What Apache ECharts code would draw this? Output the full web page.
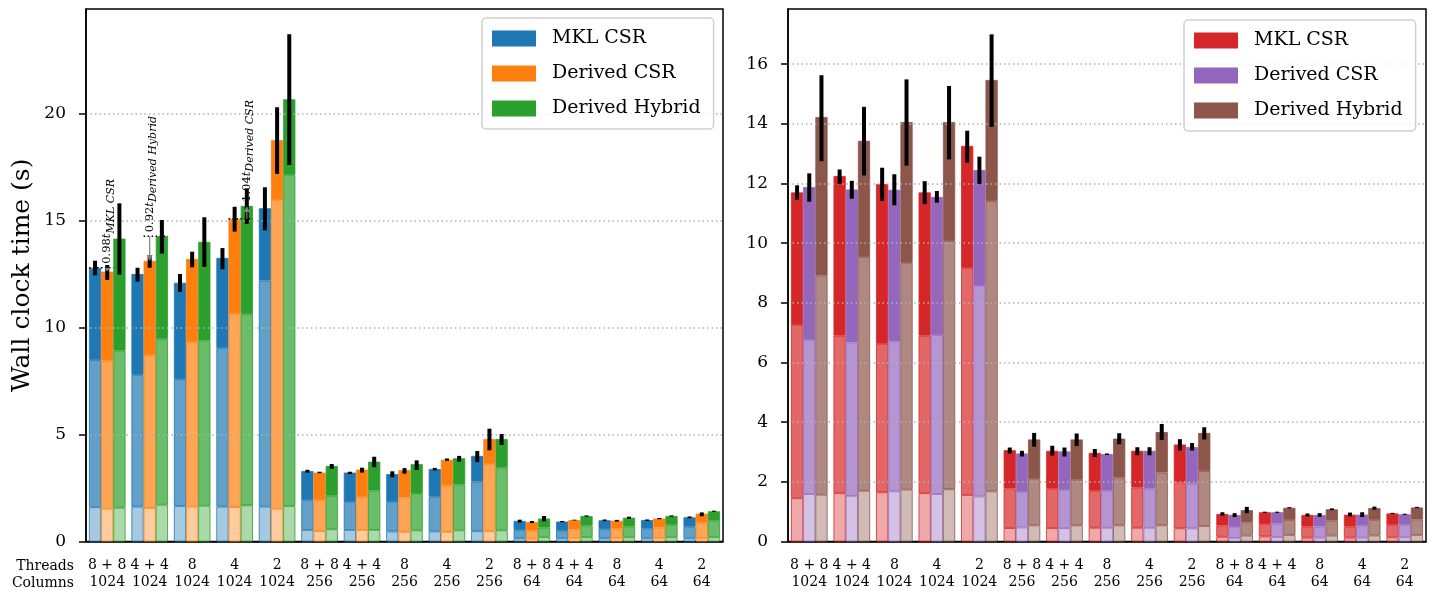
<!DOCTYPE html>
<html>
<head>
<meta charset="utf-8">
<script src="https://cdn.jsdelivr.net/npm/echarts@6/dist/echarts.min.js"></script>
<style>
  html, body { margin: 0; padding: 0; background: #fff; }
  #chart { width: 1435px; height: 591px; }
</style>
</head>
<body>
<div id="chart"></div>
<script>
// categories
var threads = ['8 + 8', '4 + 4', '8', '4', '2', '8 + 8', '4 + 4', '8', '4', '2', '8 + 8', '4 + 4', '8', '4', '2'];
var columns = ['1024', '1024', '1024', '1024', '1024', '256', '256', '256', '256', '256', '64', '64', '64', '64', '64'];
var methods = ['MKL CSR', 'Derived CSR', 'Derived Hybrid'];

// left panel: cumulative heights of the three segments (MKL CSR, Derived CSR, Derived Hybrid)
var leftBottom = [
  [1.60, 1.63, 1.66, 1.63, 1.63, 0.54, 0.54, 0.47, 0.47, 0.48, 0.15, 0.15, 0.15, 0.15, 0.15],
  [1.53, 1.57, 1.63, 1.61, 1.53, 0.49, 0.54, 0.45, 0.45, 0.48, 0.13, 0.15, 0.15, 0.15, 0.15],
  [1.58, 1.72, 1.67, 1.69, 1.66, 0.57, 0.54, 0.52, 0.52, 0.52, 0.20, 0.20, 0.20, 0.20, 0.20]
];
var leftMid = [
  [8.47, 7.78, 7.59, 9.04, 12.19, 1.94, 1.85, 1.85, 2.09, 2.80, 0.54, 0.50, 0.57, 0.60, 0.69],
  [8.45, 8.71, 9.32, 10.64, 15.96, 1.94, 2.08, 2.06, 2.61, 3.62, 0.50, 0.56, 0.60, 0.65, 0.88],
  [8.92, 9.45, 9.38, 10.62, 17.13, 2.14, 2.38, 2.23, 2.66, 3.45, 0.65, 0.74, 0.70, 0.78, 0.97]
];
var leftTotal = [
  [12.79, 12.50, 12.09, 13.25, 15.57, 3.29, 3.22, 3.15, 3.39, 4.00, 0.96, 0.93, 0.99, 1.00, 1.13],
  [12.61, 13.11, 13.20, 15.08, 18.75, 3.22, 3.36, 3.33, 3.82, 4.79, 0.91, 1.00, 0.97, 1.07, 1.30],
  [14.15, 14.26, 14.00, 15.68, 20.66, 3.53, 3.73, 3.61, 3.89, 4.79, 1.07, 1.19, 1.11, 1.19, 1.41]
];
var leftErrLow = [
  [12.44, 12.14, 11.66, 12.72, 14.54, 3.22, 3.15, 3.00, 3.32, 3.71, 0.89, 0.90, 0.95, 0.96, 1.09],
  [12.22, 12.79, 12.81, 14.48, 17.17, 3.19, 3.22, 3.17, 3.77, 4.26, 0.86, 0.98, 0.93, 1.04, 1.18],
  [12.47, 13.45, 12.83, 14.84, 17.59, 3.40, 3.47, 3.34, 3.73, 4.51, 0.94, 1.16, 1.06, 1.16, 1.39]
];
var leftErrHigh = [
  [13.12, 12.79, 12.50, 13.71, 16.55, 3.35, 3.26, 3.28, 3.44, 4.23, 1.02, 0.96, 1.03, 1.03, 1.17],
  [12.92, 13.34, 13.54, 15.64, 20.29, 3.26, 3.45, 3.43, 3.88, 5.27, 0.96, 1.02, 1.01, 1.10, 1.36],
  [15.80, 15.02, 15.15, 16.50, 23.70, 3.62, 3.96, 3.79, 4.00, 5.02, 1.19, 1.22, 1.16, 1.22, 1.44]
];

// right panel
var rightBottom = [
  [1.45, 1.62, 1.65, 1.62, 1.56, 0.45, 0.45, 0.46, 0.46, 0.44, 0.16, 0.17, 0.13, 0.13, 0.14],
  [1.59, 1.53, 1.68, 1.59, 1.51, 0.47, 0.45, 0.46, 0.46, 0.44, 0.12, 0.15, 0.13, 0.13, 0.14],
  [1.57, 1.70, 1.74, 1.75, 1.68, 0.54, 0.54, 0.54, 0.54, 0.52, 0.20, 0.22, 0.20, 0.20, 0.22]
];
var rightMid = [
  [7.26, 6.90, 6.62, 6.90, 9.17, 1.78, 1.77, 1.70, 1.81, 1.98, 0.54, 0.58, 0.50, 0.50, 0.56],
  [6.76, 6.67, 6.71, 6.92, 8.57, 1.66, 1.73, 1.70, 1.77, 1.94, 0.49, 0.60, 0.50, 0.53, 0.56],
  [8.92, 9.54, 9.34, 10.07, 11.41, 2.10, 2.07, 2.14, 2.31, 2.36, 0.64, 0.72, 0.70, 0.72, 0.74]
];
var rightTotal = [
  [11.70, 12.25, 11.98, 11.70, 13.26, 3.06, 3.04, 2.97, 3.04, 3.25, 0.92, 0.98, 0.89, 0.90, 0.94],
  [11.88, 11.80, 11.79, 11.55, 12.45, 2.95, 3.02, 2.93, 3.04, 3.17, 0.89, 0.98, 0.89, 0.90, 0.91],
  [14.23, 13.43, 14.06, 14.06, 15.47, 3.42, 3.42, 3.45, 3.67, 3.64, 1.05, 1.13, 1.08, 1.12, 1.14]
];
var rightErrLow = [
  [11.46, 11.98, 11.42, 11.31, 12.70, 2.95, 2.88, 2.83, 2.89, 3.05, 0.87, 0.96, 0.84, 0.84, 0.92],
  [11.39, 11.49, 11.27, 11.36, 11.98, 2.85, 2.85, 2.90, 2.89, 3.05, 0.82, 0.96, 0.83, 0.82, 0.89],
  [12.75, 12.27, 12.60, 12.81, 13.90, 3.18, 3.20, 3.26, 3.40, 3.42, 0.95, 1.11, 1.05, 1.07, 1.12]
];
var rightErrHigh = [
  [11.94, 12.47, 12.53, 12.08, 13.77, 3.15, 3.21, 3.10, 3.16, 3.43, 0.98, 1.00, 0.94, 0.97, 0.96],
  [12.34, 12.09, 12.31, 11.75, 12.90, 3.04, 3.15, 2.95, 3.16, 3.30, 0.95, 1.00, 0.95, 0.98, 0.93],
  [15.63, 14.57, 15.49, 15.27, 17.00, 3.64, 3.62, 3.63, 3.94, 3.83, 1.16, 1.15, 1.11, 1.17, 1.16]
];

// ratio annotations on the left panel
var annCats = [0, 1, 3];
var annRef = [0, 2, 1];
var annCmp = [1, 1, 2];
var annRatio = ['0.98', '0.92', '1.04'];

var leftColors = [['#a5c9e1', '#62a0ca', '#1f77b4'], ['#ffcc9f', '#ffa556', '#ff7f0e'], ['#abd9ab', '#6bbd6b', '#2ca02c']];
var rightColors = [['#efa9a9', '#e26868', '#d62728'], ['#d4c2e5', '#b495d1', '#9467bd'], ['#d1bbb7', '#af8981', '#8c564b']];

var FONT = 'DejaVu Serif';
var GAP = 0.14;
var labels = threads.map(function (t, i) { return t + '\n' + columns[i]; });

var measureCtx = document.createElement('canvas').getContext('2d');
function textWidth(txt, font) {
  measureCtx.font = font;
  return measureCtx.measureText(txt).width;
}

function barSeries(g, suffix, bottoms, mids, totals, colors) {
  var out = [];
  for (var k = 0; k < 3; k++) {
    var segs = [
      bottoms[k],
      mids[k].map(function (v, i) { return +(v - bottoms[k][i]).toFixed(3); }),
      totals[k].map(function (v, i) { return +(v - mids[k][i]).toFixed(3); })
    ];
    for (var s = 0; s < 3; s++) {
      out.push({
        type: 'bar',
        name: s === 2 ? methods[k] + suffix : methods[k] + suffix + '#' + s,
        xAxisIndex: g,
        yAxisIndex: g,
        stack: 'g' + g + 'm' + k,
        data: segs[s],
        barGap: '0%',
        barCategoryGap: (GAP * 100) + '%',
        silent: true,
        itemStyle: { color: colors[k][s], borderColor: colors[k][2], borderWidth: 0.8 }
      });
    }
  }
  return out;
}

function errRender(params, api) {
  var cat = api.value(0), k = api.value(3);
  var p0 = api.coord([cat, api.value(1)]);
  var p1 = api.coord([cat, api.value(2)]);
  var bw = api.size([1, 0])[0] * (1 - GAP) / 3;
  var x = p0[0] + (k - 1) * bw;
  return {
    type: 'line',
    shape: { x1: x, y1: p0[1], x2: x, y2: p1[1] },
    style: { stroke: '#000', lineWidth: 4 }
  };
}

function errSeries(g, lows, highs) {
  var data = [];
  for (var k = 0; k < 3; k++) {
    for (var i = 0; i < lows[k].length; i++) data.push([i, lows[k][i], highs[k][i], k]);
  }
  return {
    type: 'custom',
    xAxisIndex: g,
    yAxisIndex: g,
    silent: true,
    z: 4,
    encode: { x: 0, y: [1, 2] },
    renderItem: errRender,
    data: data
  };
}

function annRender(params, api) {
  var i = params.dataIndex;
  var cat = api.value(0), rk = api.value(3), ck = api.value(4);
  var pr = api.coord([cat, api.value(1)]);
  var pc = api.coord([cat, api.value(2)]);
  var bw = api.size([1, 0])[0] * (1 - GAP) / 3;
  var xr = pr[0] + (rk - 1) * bw, xc = pr[0] + (ck - 1) * bw;
  var xa = Math.min(xr, xc) - bw / 2, xb = Math.max(xr, xc) + bw / 2;
  var dir = pc[1] > pr[1] ? 1 : -1;
  var head = Math.min(6, Math.abs(pc[1] - pr[1]));
  var yText = Math.min(pr[1], pc[1]) - 4;
  var f1 = '11.5px "' + FONT + '"', f2 = 'italic 11.5px "' + FONT + '"', f3 = 'italic 11px "' + FONT + '"';
  var w1 = textWidth(annRatio[i], f1), w2 = textWidth('t', f2);
  return {
    type: 'group',
    children: [
      { type: 'line', shape: { x1: xa, y1: pr[1], x2: xb, y2: pr[1] },
        style: { stroke: '#000', lineWidth: 1.5, lineDash: [1.5, 2.5] } },
      { type: 'line', shape: { x1: xc, y1: pr[1], x2: xc, y2: pc[1] - dir * head },
        style: { stroke: '#808080', lineWidth: 1.2 } },
      { type: 'polygon', shape: { points: [[xc - 3, pc[1] - dir * head], [xc + 3, pc[1] - dir * head], [xc, pc[1]]] },
        style: { fill: '#808080' } },
      { type: 'group', x: xc, y: yText, rotation: Math.PI / 2, children: [
        { type: 'text', x: 0, y: 0, style: { text: annRatio[i], font: f1, fill: '#000', align: 'left', verticalAlign: 'middle' } },
        { type: 'text', x: w1, y: 0, style: { text: 't', font: f2, fill: '#000', align: 'left', verticalAlign: 'middle' } },
        { type: 'text', x: w1 + w2, y: 3.5, style: { text: methods[annRef[i]], font: f3, fill: '#000', align: 'left', verticalAlign: 'middle' } }
      ] }
    ]
  };
}

var annData = annCats.map(function (c, i) {
  return [c, leftTotal[annRef[i]][c], leftTotal[annCmp[i]][c], annRef[i], annCmp[i]];
});

function xAxisFor(g) {
  return {
    type: 'category',
    gridIndex: g,
    data: labels,
    axisLine: { lineStyle: { color: '#000', width: 1.5 } },
    axisTick: { alignWithLabel: true, interval: 0, length: 7, lineStyle: { color: '#000', width: 1.5 } },
    axisLabel: { interval: 0, color: '#000', fontFamily: FONT, fontSize: 14, lineHeight: 16.7, margin: 16 },
    splitLine: { show: false }
  };
}

function yAxisFor(g, max, interval) {
  return {
    type: 'value',
    gridIndex: g,
    min: 0,
    max: max,
    interval: interval,
    z: 3,
    axisLine: { show: true, lineStyle: { color: '#000', width: 1.5 } },
    axisTick: { show: true, length: 7, lineStyle: { color: '#000', width: 1.5 } },
    axisLabel: { color: '#000', fontFamily: FONT, fontSize: 17, margin: 20, showMaxLabel: false },
    splitLine: { show: true, showMinLine: false, showMaxLine: false,
      lineStyle: { color: '#b0b0b0', width: 1.5, type: [1.5, 3] } }
  };
}

function legendFor(left, top, suffix) {
  return {
    left: left,
    top: top,
    orient: 'vertical',
    align: 'left',
    data: methods.map(function (m) { return m + suffix; }),
    formatter: function (n) { return n.trim(); },
    icon: 'rect',
    itemWidth: 42,
    itemHeight: 14,
    itemGap: 16,
    selectedMode: false,
    padding: [11, 13, 11, 10],
    backgroundColor: 'rgba(255,255,255,0.8)',
    borderColor: '#d0d0d0',
    borderWidth: 1.5,
    borderRadius: 4,
    textStyle: { color: '#000', fontFamily: FONT, fontSize: 19, lineHeight: 14, padding: [0, 0, 0, 12] }
  };
}

var yLeft = yAxisFor(0, 24.88, 5);
yLeft.name = 'Wall clock time (s)';
yLeft.nameLocation = 'middle';
yLeft.nameGap = 51;
yLeft.nameTextStyle = { color: '#000', fontFamily: FONT, fontSize: 25 };

var option = {
  animation: false,
  backgroundColor: '#fff',
  grid: [
    { left: 86, top: 9, width: 637, height: 532.5, show: true, borderColor: '#000', borderWidth: 1.5 },
    { left: 788, top: 9, width: 638, height: 532.5, show: true, borderColor: '#000', borderWidth: 1.5 }
  ],
  xAxis: [xAxisFor(0), xAxisFor(1)],
  yAxis: [yLeft, yAxisFor(1, 17.85, 2)],
  legend: [legendFor(482, 18, ''), legendFor(1184, 20, ' ')],
  graphic: [
    { type: 'text', x: 74, y: 566, style: { text: 'Threads', align: 'right', verticalAlign: 'middle', font: '14px "' + FONT + '"', fill: '#000' } },
    { type: 'text', x: 74, y: 583, style: { text: 'Columns', align: 'right', verticalAlign: 'middle', font: '14px "' + FONT + '"', fill: '#000' } }
  ],
  series: []
    .concat(barSeries(0, '', leftBottom, leftMid, leftTotal, leftColors))
    .concat([errSeries(0, leftErrLow, leftErrHigh)])
    .concat(barSeries(1, ' ', rightBottom, rightMid, rightTotal, rightColors))
    .concat([errSeries(1, rightErrLow, rightErrHigh)])
    .concat([{
      type: 'custom',
      xAxisIndex: 0,
      yAxisIndex: 0,
      silent: true,
      z: 5,
      encode: { x: 0, y: [1, 2] },
      renderItem: annRender,
      data: annData
    }])
};

var chart = echarts.init(document.getElementById('chart'));
chart.setOption(option);
</script>
</body>
</html>
